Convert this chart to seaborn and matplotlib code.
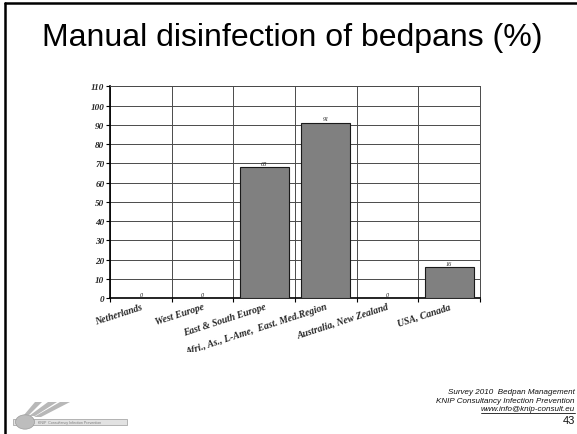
import matplotlib
matplotlib.use("Agg")
import matplotlib.pyplot as plt
import seaborn as sns
import pandas as pd
from matplotlib.transforms import Bbox, TransformedBbox
from matplotlib.patches import Polygon, Circle, Rectangle
from matplotlib.lines import Line2D

categories = ["Netherlands", "West Europe", "East & South Europe",
              "Afri., As., L-Ame,  East. Med.Region",
              "Australia, New Zealand", "USA, Canada"]
values = [0, 0, 68, 91, 0, 16]
yticks = list(range(0, 111, 10))

sns.set_theme(style="white")
plt.rcParams['font.family'] = ['Liberation Sans', 'DejaVu Sans']

W, H = 577, 435
fig = plt.figure(figsize=(W / 100, H / 100), dpi=100)
fig.patch.set_facecolor("white")

ax = fig.add_axes([110 / W, 1 - 299.3 / H, 370 / W, 212 / H])
df = pd.DataFrame({"cat": categories, "val": values})
sns.barplot(data=df, x="cat", y="val", ax=ax, color="#808080",
            saturation=1, width=0.79, edgecolor="#1a1a1a", linewidth=0.8,
            zorder=3)

ax.set_xlim(-0.5, len(categories) - 0.5)
ax.set_ylim(0, 110)
ax.set_xlabel("")
ax.set_ylabel("")
ax.set_facecolor("white")

serif_bi = dict(family="Liberation Serif", weight="bold", style="italic")

ax.set_yticks(yticks)
ax.set_yticklabels([str(v) for v in yticks], fontsize=6.6, **serif_bi)
ax.tick_params(axis="y", which="major", left=True, length=3, width=0.8,
               pad=1, color="black")

ax.set_xticks(range(len(categories)))
ax.set_xticklabels(categories, fontsize=7, rotation=18, ha="right",
                   va="top", rotation_mode="anchor", **serif_bi)
ax.tick_params(axis="x", which="major", bottom=False, length=0, pad=2.5)
ax.set_xticks([i - 0.5 for i in range(len(categories) + 1)], minor=True)
ax.tick_params(axis="x", which="minor", bottom=True, length=3, width=0.8,
               color="black")

ax.grid(True, axis="y", which="major", color="#4a4a4a", linewidth=0.7,
        zorder=0)
ax.grid(True, axis="x", which="minor", color="#4a4a4a", linewidth=0.7,
        zorder=0)
ax.set_axisbelow(True)

for side in ["top", "right"]:
    ax.spines[side].set_visible(True)
    ax.spines[side].set_color("#4a4a4a")
    ax.spines[side].set_linewidth(0.7)
for side in ["left", "bottom"]:
    ax.spines[side].set_visible(True)
    ax.spines[side].set_color("black")
    ax.spines[side].set_linewidth(1.2)

# value labels
for i, v in enumerate(values):
    ax.text(i, v + 0.8, str(v), ha="center", va="bottom", fontsize=4.5,
            family="Liberation Serif", style="italic", color="#222222",
            zorder=4)

# clip x tick labels at the lower edge of the chart image
clip = TransformedBbox(Bbox([[0, 82 / H], [1, 1]]), fig.transFigure)
for lab in ax.get_xticklabels():
    lab.set_clip_on(True)
    lab.set_clip_box(clip)

# title
fig.text(292 / W, 1 - 38 / H, "Manual disinfection of bedpans (%)",
         ha="center", va="center", fontsize=23, color="black")

# footer
fx = 575 / W
fs = 5.8
fig.text(fx, 1 - 393 / H, "Survey 2010  Bedpan Management", ha="right",
         va="center", fontsize=fs, style="italic", color="#111111")
fig.text(fx, 1 - 402 / H, "KNIP Consultancy Infection Prevention", ha="right",
         va="center", fontsize=fs, style="italic", color="#111111")
www = fig.text(fx, 1 - 410 / H, "www.info@knip-consult.eu", ha="right",
               va="center", fontsize=fs, style="italic", color="#111111")
fig.text(fx, 1 - 421 / H, "43", ha="right", va="center", fontsize=8,
         color="#111111")
fig.canvas.draw()
bb = www.get_window_extent()
fig.add_artist(Line2D([bb.x0 / W, bb.x1 / W], [(bb.y0 - 0.3) / H] * 2,
                      transform=fig.transFigure, color="#111111",
                      linewidth=0.6))

# slide border (left and top)
fig.add_artist(Line2D([4.5 / W, 4.5 / W], [0, 1 - 4 / H],
                      transform=fig.transFigure, color="black", linewidth=1.8))
fig.add_artist(Line2D([4.5 / W, 1], [1 - 4 / H, 1 - 4 / H],
                      transform=fig.transFigure, color="black", linewidth=1.8))

# logo (decorative)
def fp(x, y):
    return (x / W, 1 - y / H)

for pts in [
    [(24, 416), (29, 416), (42, 403), (35, 403)],
    [(29, 417), (35, 417), (57, 403), (48, 403)],
    [(34, 418), (41, 418), (70, 403), (60, 403)],
]:
    fig.add_artist(Polygon([fp(*p) for p in pts], closed=True,
                           transform=fig.transFigure, facecolor="#b8b8b8",
                           edgecolor="none"))
fig.add_artist(Rectangle(fp(13, 426), 114 / W, 6 / H,
                         transform=fig.transFigure, facecolor="#e2e2e2",
                         edgecolor="#9a9a9a", linewidth=0.5))
fig.add_artist(Circle(fp(25, 423), 9.5 / W, transform=fig.transFigure,
                      facecolor="#bdbdbd", edgecolor="#9a9a9a",
                      linewidth=0.5))
fig.text(38 / W, 1 - 423 / H, "KNIP  Consultancy Infection Prevention",
         ha="left", va="center", fontsize=2.6, color="#7a7a7a")

fig.savefig("out.png", dpi=100, facecolor="white")
